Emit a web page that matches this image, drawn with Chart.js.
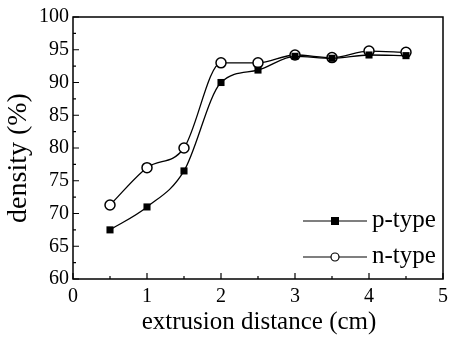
<!DOCTYPE html>
<html>
<head>
<script src="https://cdn.jsdelivr.net/npm/chart.js@4/dist/chart.umd.min.js"></script>
<style>
  body { margin: 0; background: #fff; }
  #wrap { width: 454px; height: 338px; }
</style>
</head>
<body>
<div id="wrap"><canvas id="canvas"></canvas></div>
<script>
// extrusion distance (cm)
const distance = [0.5, 1, 1.5, 2, 2.5, 3, 3.5, 4, 4.5];
// density (%)
const pType = [67.5, 71, 76.5, 90, 91.9, 94, 93.7, 94.2, 94.1];
const nType = [71.3, 77, 80, 93, 93, 94.2, 93.8, 94.8, 94.6];
const xTicks = [0, 1, 2, 3, 4, 5];
const yTicks = [60, 65, 70, 75, 80, 85, 90, 95, 100];

const serif = "'Liberation Serif', 'Times New Roman', serif";

// box around the plot, ticks pointing inward, axis titles, legend inside
const framePlugin = {
  id: 'frame',
  afterDraw(chart) {
    const ctx = chart.ctx;
    const a = chart.chartArea;
    const xs = chart.scales.x, ys = chart.scales.y;
    ctx.save();
    ctx.strokeStyle = '#000';
    ctx.lineWidth = 1.5;
    ctx.strokeRect(a.left, a.top, a.right - a.left, a.bottom - a.top);
    ctx.lineWidth = 1.2;
    ctx.beginPath();
    for (let v = 0; v <= 5; v += 0.5) {
      const px = xs.getPixelForValue(v);
      const len = Number.isInteger(v) ? 6 : 3;
      ctx.moveTo(px, a.bottom); ctx.lineTo(px, a.bottom - len);
    }
    for (let v = 60; v <= 100; v += 2.5) {
      const py = ys.getPixelForValue(v);
      const len = v % 5 === 0 ? 6 : 3;
      ctx.moveTo(a.left, py); ctx.lineTo(a.left + len, py);
    }
    ctx.stroke();

    // axis titles
    ctx.fillStyle = '#000';
    ctx.textAlign = 'center';
    ctx.textBaseline = 'middle';
    ctx.font = '25px ' + serif;
    ctx.fillText('extrusion distance (cm)', 259, 322);
    ctx.save();
    ctx.translate(19, 158);
    ctx.rotate(-Math.PI / 2);
    ctx.font = '28px ' + serif;
    ctx.fillText('density (%)', 0, 0);
    ctx.restore();

    // legend
    const rows = [
      { label: 'p-type', y: a.bottom - 58, fill: true },
      { label: 'n-type', y: a.bottom - 22, fill: false }
    ];
    ctx.font = '25px ' + serif;
    ctx.textAlign = 'left';
    rows.forEach(r => {
      ctx.lineWidth = 1.2;
      ctx.beginPath();
      ctx.moveTo(303, r.y); ctx.lineTo(367, r.y);
      ctx.stroke();
      if (r.fill) {
        ctx.fillRect(331, r.y - 4, 8, 8);
      } else {
        ctx.beginPath();
        ctx.arc(335, r.y, 4, 0, Math.PI * 2);
        ctx.fillStyle = '#fff';
        ctx.fill();
        ctx.stroke();
        ctx.fillStyle = '#000';
      }
      ctx.fillText(r.label, 372, r.y - 1);
    });
    ctx.restore();
  }
};

new Chart(document.getElementById('canvas'), {
  type: 'line',
  data: {
    datasets: [
      {
        label: 'p-type',
        data: distance.map((d, i) => ({ x: d, y: pType[i] })),
        borderColor: '#000',
        borderWidth: 1.3,
        backgroundColor: '#000',
        pointStyle: 'rect',
        pointRadius: 5,
        pointBorderWidth: 0,
        cubicInterpolationMode: 'monotone'
      },
      {
        label: 'n-type',
        data: distance.map((d, i) => ({ x: d, y: nType[i] })),
        borderColor: '#000',
        borderWidth: 1.3,
        backgroundColor: '#fff',
        pointStyle: 'circle',
        pointRadius: 5,
        pointBorderWidth: 1.5,
        cubicInterpolationMode: 'monotone'
      }
    ]
  },
  options: {
    responsive: true,
    maintainAspectRatio: false,
    animation: false,
    layout: { padding: { top: 17, right: 6, left: 0, bottom: 0 } },
    plugins: {
      legend: { display: false },
      tooltip: { enabled: false }
    },
    scales: {
      x: {
        type: 'linear',
        min: 0, max: 5,
        afterFit: s => { s.height = 59; },
        afterBuildTicks: s => { s.ticks = xTicks.map(v => ({ value: v })); },
        grid: { display: false, drawTicks: false },
        border: { display: false },
        ticks: { color: '#000', padding: 6, font: { family: serif, size: 20 } }
      },
      y: {
        min: 60, max: 100,
        afterFit: s => { s.width = 73; },
        afterBuildTicks: s => { s.ticks = yTicks.map(v => ({ value: v })); },
        grid: { display: false, drawTicks: false },
        border: { display: false },
        ticks: { color: '#000', padding: 4, font: { family: serif, size: 20 } }
      }
    }
  },
  plugins: [framePlugin]
});
</script>
</body>
</html>
